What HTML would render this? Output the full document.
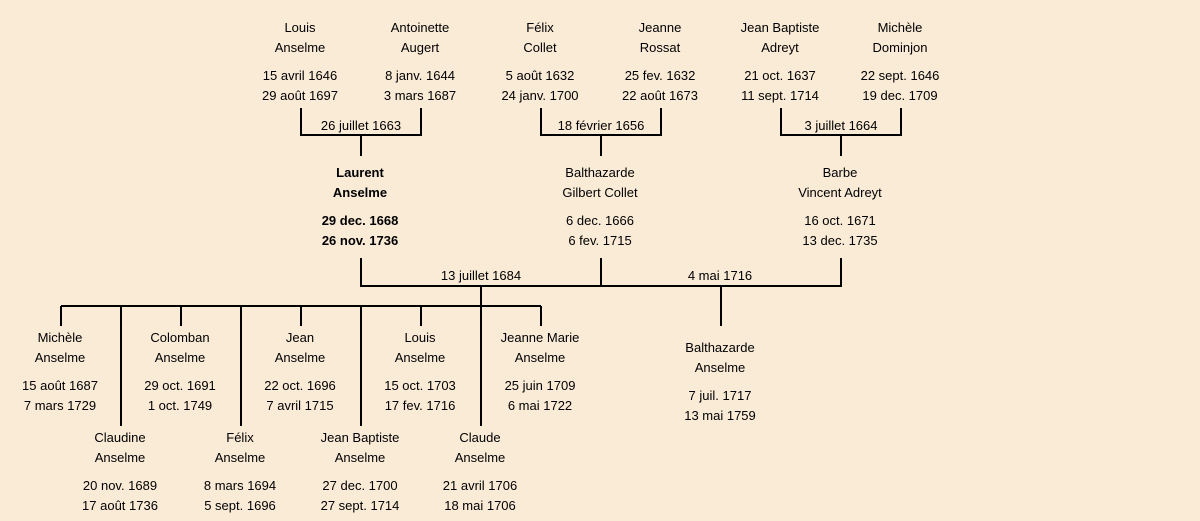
<!DOCTYPE html>
<html><head><meta charset="utf-8"><style>
html,body{margin:0;padding:0;background:#faebd7;}
svg{display:block}
text{font-family:"Liberation Sans",sans-serif;font-size:13px;fill:#000;text-anchor:middle}
.b{font-weight:bold}
</style></head><body>
<svg width="1200" height="521" viewBox="0 0 1200 521" xmlns="http://www.w3.org/2000/svg">
<rect width="1200" height="521" fill="#faebd7"/>
<g stroke="#000" stroke-width="2" fill="none">
<path d="M301 108V135H421V108 M361 135V156"/>
<path d="M541 108V135H661V108 M601 135V156"/>
<path d="M781 108V135H901V108 M841 135V156"/>
<path d="M361 258V286H841V258 M601 258V286 M481 286V306 M721 286V326"/>
<path d="M61 306H541 M61 306V326 M181 306V326 M301 306V326 M421 306V326 M541 306V326 M121 306V426 M241 306V426 M361 306V426 M481 306V426"/>
</g>
<g>
<text x="300" y="32">Louis</text><text x="300" y="52">Anselme</text><text x="300" y="80">15 avril 1646</text><text x="300" y="100">29 août 1697</text>
<text x="420" y="32">Antoinette</text><text x="420" y="52">Augert</text><text x="420" y="80">8 janv. 1644</text><text x="420" y="100">3 mars 1687</text>
<text x="540" y="32">Félix</text><text x="540" y="52">Collet</text><text x="540" y="80">5 août 1632</text><text x="540" y="100">24 janv. 1700</text>
<text x="660" y="32">Jeanne</text><text x="660" y="52">Rossat</text><text x="660" y="80">25 fev. 1632</text><text x="660" y="100">22 août 1673</text>
<text x="780" y="32">Jean Baptiste</text><text x="780" y="52">Adreyt</text><text x="780" y="80">21 oct. 1637</text><text x="780" y="100">11 sept. 1714</text>
<text x="900" y="32">Michèle</text><text x="900" y="52">Dominjon</text><text x="900" y="80">22 sept. 1646</text><text x="900" y="100">19 dec. 1709</text>

<text x="361" y="130">26 juillet 1663</text>
<text x="601" y="130">18 février 1656</text>
<text x="841" y="130">3 juillet 1664</text>

<text class="b" x="360" y="177">Laurent</text><text class="b" x="360" y="197">Anselme</text><text class="b" x="360" y="225">29 dec. 1668</text><text class="b" x="360" y="245">26 nov. 1736</text>
<text x="600" y="177">Balthazarde</text><text x="600" y="197">Gilbert Collet</text><text x="600" y="225">6 dec. 1666</text><text x="600" y="245">6 fev. 1715</text>
<text x="840" y="177">Barbe</text><text x="840" y="197">Vincent Adreyt</text><text x="840" y="225">16 oct. 1671</text><text x="840" y="245">13 dec. 1735</text>

<text x="481" y="280">13 juillet 1684</text>
<text x="720" y="280">4 mai 1716</text>

<text x="60" y="342">Michèle</text><text x="60" y="362">Anselme</text><text x="60" y="390">15 août 1687</text><text x="60" y="410">7 mars 1729</text>
<text x="180" y="342">Colomban</text><text x="180" y="362">Anselme</text><text x="180" y="390">29 oct. 1691</text><text x="180" y="410">1 oct. 1749</text>
<text x="300" y="342">Jean</text><text x="300" y="362">Anselme</text><text x="300" y="390">22 oct. 1696</text><text x="300" y="410">7 avril 1715</text>
<text x="420" y="342">Louis</text><text x="420" y="362">Anselme</text><text x="420" y="390">15 oct. 1703</text><text x="420" y="410">17 fev. 1716</text>
<text x="540" y="342">Jeanne Marie</text><text x="540" y="362">Anselme</text><text x="540" y="390">25 juin 1709</text><text x="540" y="410">6 mai 1722</text>

<text x="120" y="442">Claudine</text><text x="120" y="462">Anselme</text><text x="120" y="490">20 nov. 1689</text><text x="120" y="510">17 août 1736</text>
<text x="240" y="442">Félix</text><text x="240" y="462">Anselme</text><text x="240" y="490">8 mars 1694</text><text x="240" y="510">5 sept. 1696</text>
<text x="360" y="442">Jean Baptiste</text><text x="360" y="462">Anselme</text><text x="360" y="490">27 dec. 1700</text><text x="360" y="510">27 sept. 1714</text>
<text x="480" y="442">Claude</text><text x="480" y="462">Anselme</text><text x="480" y="490">21 avril 1706</text><text x="480" y="510">18 mai 1706</text>

<text x="720" y="352">Balthazarde</text><text x="720" y="372">Anselme</text><text x="720" y="400">7 juil. 1717</text><text x="720" y="420">13 mai 1759</text>
</g>
</svg>
</body></html>
